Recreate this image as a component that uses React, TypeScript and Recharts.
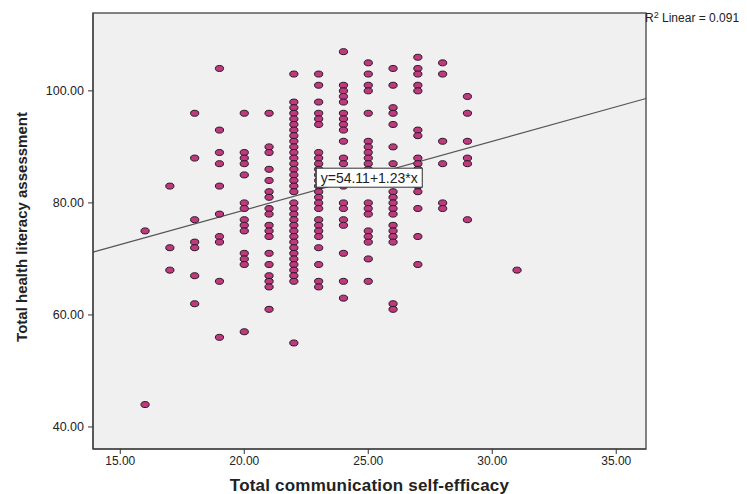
import { ScatterChart, Scatter, XAxis, YAxis, CartesianGrid, ReferenceLine, ReferenceArea } from 'recharts';

// Total communication self-efficacy (x) and the health literacy scores seen at each x
const commScores = [16, 17, 18, 19, 20, 21, 22, 23, 24, 25, 26, 27, 28, 29, 31];
const literacyScores: number[][] = [
  [75, 44],
  [83, 72, 68],
  [96, 88, 77, 73, 72, 67, 62],
  [104, 93, 89, 87, 83, 78, 74, 73, 66, 56],
  [96, 89, 88, 87, 85, 80, 79, 77, 76, 75, 71, 70, 69, 57],
  [96, 90, 89, 86, 84, 82, 81, 79, 78, 76, 75, 74, 71, 69, 67, 66, 65, 61],
  [103, 98, 97, 96, 95, 94, 93, 92, 91, 90, 89, 88, 87, 86, 85, 84, 83, 82, 80, 79, 78, 77, 76, 75, 74, 73, 72, 71, 70, 69, 68, 67, 66, 55],
  [103, 101, 98, 96, 95, 94, 89, 88, 87, 86, 85, 84, 83, 82, 81, 80, 79, 77, 76, 75, 74, 72, 69, 66, 65],
  [107, 101, 100, 99, 98, 96, 95, 94, 93, 91, 88, 87, 84, 83, 80, 79, 77, 76, 71, 66, 63],
  [105, 103, 101, 100, 96, 91, 90, 89, 88, 87, 86, 85, 84, 80, 79, 78, 75, 74, 73, 70, 66],
  [104, 101, 97, 96, 94, 90, 87, 82, 81, 80, 79, 78, 76, 75, 74, 73, 62, 61],
  [106, 104, 103, 101, 100, 93, 92, 88, 87, 86, 85, 84, 83, 82, 79, 74, 69],
  [105, 103, 91, 87, 80, 79],
  [99, 96, 91, 88, 87, 77],
  [68],
];

const xTicks = [15, 20, 25, 30, 35];
const yTicks = [40, 60, 80, 100];

// fit line reported by SPSS
const INTERCEPT = 54.11;
const SLOPE = 1.23;
const R2 = '0.091';

const X_MIN = 13.9;
const X_MAX = 36.2;
const Y_MIN = 36.07;
const Y_MAX = 113.9;

const EQ_AT = { x: 25.04, y: 84.5 };

const points = commScores.flatMap((x, i) => literacyScores[i].map((y) => ({ x, y })));

const fitLine = [
  { x: X_MIN, y: INTERCEPT + SLOPE * X_MIN },
  { x: X_MAX, y: INTERCEPT + SLOPE * X_MAX },
];

const FONT = '"Liberation Sans", Arial, sans-serif';

const PointMark = (props: any) => {
  const { cx, cy } = props;
  return <ellipse cx={cx} cy={cy} rx={4.1} ry={3} fill="#bd3a7e" stroke="#2a1622" strokeWidth={1} />;
};

const EquationBox = (props: any) => {
  const { cx, cy } = props;
  return (
    <g>
      <rect x={cx - 53} y={cy - 9.5} width={106} height={19} fill="#ffffff" stroke="#333" strokeWidth={1} />
      <text x={cx} y={cy + 5} textAnchor="middle" fontSize={14} fontFamily={FONT} fill="#222">
        {`y=${INTERCEPT}+${SLOPE}*x`}
      </text>
    </g>
  );
};

export default function App() {
  return (
    <div style={{ position: 'absolute', left: 0, top: 0, width: 747, height: 494, background: '#fff', fontFamily: FONT }}>
      <ScatterChart width={747} height={494} margin={{ top: 13, right: 101, bottom: 0, left: 0 }}>
        <CartesianGrid fill="#f0f0f0" horizontal={false} vertical={false} />
        <XAxis
          type="number"
          dataKey="x"
          domain={[X_MIN, X_MAX]}
          ticks={xTicks}
          allowDataOverflow
          height={45}
          tickSize={5}
          tickFormatter={(v: number) => v.toFixed(2)}
          tick={{ fontSize: 12, fill: '#222', fontFamily: FONT }}
          axisLine={{ stroke: '#333' }}
          tickLine={{ stroke: '#333' }}
          label={{
            value: 'Total communication self-efficacy',
            position: 'insideBottom',
            offset: 3,
            style: { fontSize: 17, fontWeight: 'bold', fill: '#222', fontFamily: FONT, letterSpacing: 0.2 },
          }}
        />
        <YAxis
          type="number"
          dataKey="y"
          domain={[Y_MIN, Y_MAX]}
          ticks={yTicks}
          allowDataOverflow
          width={93}
          tickSize={5}
          tickMargin={4}
          tickFormatter={(v: number) => v.toFixed(2)}
          tick={{ fontSize: 12.5, fill: '#222', fontFamily: FONT }}
          axisLine={{ stroke: '#333' }}
          tickLine={{ stroke: '#333' }}
          label={{
            content: () => (
              <text
                x={27}
                y={227}
                transform="rotate(-90 27 227)"
                textAnchor="middle"
                fontSize={15}
                fontWeight="bold"
                fill="#222"
                fontFamily={FONT}
              >
                Total health literacy assessment
              </text>
            ),
          }}
        />
        <ReferenceArea x1={X_MIN} x2={X_MAX} y1={Y_MIN} y2={Y_MAX} fill="none" stroke="#5a5a5a" strokeWidth={1.5} />
        <Scatter data={points} shape={<PointMark />} isAnimationActive={false} />
        <ReferenceLine segment={fitLine} stroke="#555" strokeWidth={1.2} />
        <Scatter data={[EQ_AT]} shape={<EquationBox />} isAnimationActive={false} />
      </ScatterChart>
      <svg width={110} height={24} style={{ position: 'absolute', left: 644, top: 8 }}>
        <text x={1} y={14} fontSize={12} fill="#222" fontFamily={FONT}>
          R<tspan fontSize={9} dy={-4}>2</tspan>
          <tspan dy={4}> Linear = {R2}</tspan>
        </text>
      </svg>
    </div>
  );
}
